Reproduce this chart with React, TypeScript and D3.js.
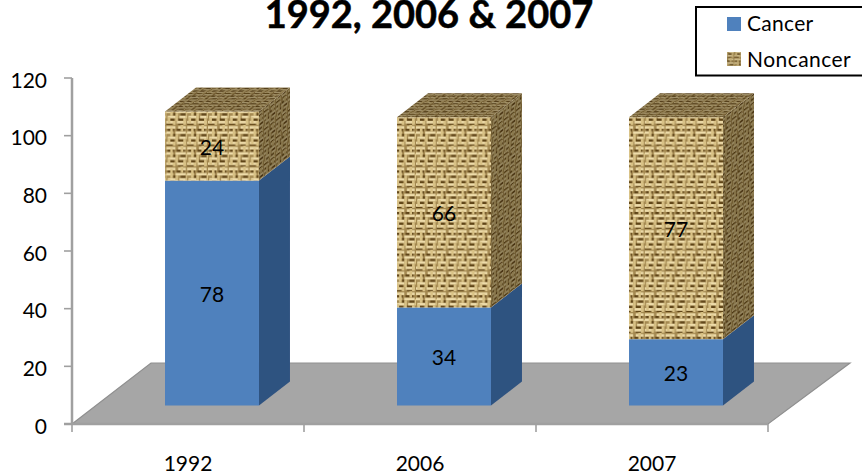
import React from "react";
import * as d3 from "d3";

const categories = ["1992", "2006", "2007"];
const cancer = [78, 34, 23];
const noncancer = [24, 66, 77];
const ticks = [0, 20, 40, 60, 80, 100, 120];
const titleText = "1992, 2006 & 2007";
const seriesNames = ["Cancer", "Noncancer"];

const FONT = "Lato, Carlito, sans-serif";
const BLUE = "#4f81bd";
const BLUE_SIDE = "#2f5280";
const AXIS = "#a0a0a0";

// Bars sit forward of the axis plane by this offset.
const BAR_SHIFT = { x: 24, y: -18.5 };
const DEPTH = { x: 31, y: -24 };
const FLOOR = { x: 79, y: -61 };

const yScale = d3.scaleLinear().domain([0, 120]).range([424, 78]);
const xScale = d3.scaleBand<string>().domain(categories).range([72, 768]).paddingInner(0.595).paddingOuter(0.2975);
const xStep = xScale.step();

const poly = (pts: [number, number][]) => pts.map((p) => p.join(",")).join(" ");

// One tile of the woven burlap texture: alternating runs of horizontal and vertical threads.
const weaveH: [number, number, number][] = [
  [0, 1, 7], [9, 1, 6], [0, 5, 5], [7, 5, 8], [1, 9, 6], [10, 9, 5], [0, 13, 7], [8, 13, 7],
];
const weaveV: [number, number, number][] = [
  [3, 2, 7], [7, 7, 6], [11, 0, 5], [15, 6, 5], [1, 10, 5], [13, 11, 6], [5, 13, 3],
];
const weaveDark: [number, number, number, number][] = [
  [1, 3, 5, 2], [8, 3, 6, 2], [5, 7, 3, 2], [11, 7, 4, 2],
  [3, 11, 3, 2], [8, 11, 5, 2], [0, 15, 6, 1], [9, 15, 5, 1],
];

function Weave({ id, transform, shade }: { id: string; transform?: string; shade: number }) {
  return (
    <pattern id={id} width={16} height={16} patternUnits="userSpaceOnUse" patternTransform={transform}>
      <rect width={16} height={16} fill="#a38850" />
      {weaveDark.map(([x, y, w, h], i) => (
        <rect key={i} x={x} y={y} width={w} height={h} fill="#5f4418" />
      ))}
      {weaveH.map(([x, y, w], i) => (
        <rect key={i} x={x} y={y} width={w} height={2} fill="#eedcaa" />
      ))}
      {weaveV.map(([x, y, h], i) => (
        <rect key={i} x={x} y={y} width={2} height={h} fill="#d9c286" />
      ))}
      <rect width={16} height={16} fill="#35270e" opacity={shade} />
    </pattern>
  );
}

export default function App() {
  const baseY = yScale(0) + BAR_SHIFT.y;
  return (
    <svg
      width={862}
      height={476}
      viewBox="0 0 862 476"
      style={{ position: "absolute", left: 0, top: 0, display: "block", background: "#fff" }}
      fontFamily={FONT}
    >
      <defs>
        <Weave id="weave-front" shade={0} transform="scale(1.3)" />
        <Weave id="weave-side" shade={0.48} transform={`skewY(${(Math.atan2(DEPTH.y, DEPTH.x) * 180) / Math.PI}) scale(0.75,1.1)`} />
        <Weave id="weave-top" shade={0.42} transform={`skewX(${(Math.atan2(-DEPTH.x, -DEPTH.y) * 180) / Math.PI}) scale(1.2,0.65)`} />
        <Weave id="weave-key" shade={0.15} transform="scale(0.9)" />
        <filter id="soft" x="-5%" y="-5%" width="110%" height="110%">
          <feGaussianBlur stdDeviation="0.7" />
        </filter>
      </defs>

      <text x={429} y={28} textAnchor="middle" fontSize={38} fontWeight={700} fill="#000" stroke="#000" strokeWidth={0.5}>
        {titleText}
      </text>

      {/* Chart floor */}
      <polygon
        points={poly([
          [72, 424],
          [72 + FLOOR.x, 424 + FLOOR.y],
          [768 + FLOOR.x + 3, 424 + FLOOR.y],
          [768, 424],
        ])}
        fill="#a6a6a6"
        stroke="#8f8f8f"
        strokeWidth={1.2}
      />

      {/* Axes */}
      <g stroke={AXIS} fill="none">
        <line x1={72} x2={72} y1={yScale(120)} y2={yScale(0)} strokeWidth={2.5} />
        <line x1={64} x2={768} y1={yScale(0)} y2={yScale(0)} strokeWidth={2.5} />
        {ticks.map((t) => (
          <line key={t} x1={64} x2={72} y1={yScale(t)} y2={yScale(t)} strokeWidth={1.6} />
        ))}
        {d3.range(categories.length + 1).map((i) => (
          <line key={i} x1={72 + i * xStep} x2={72 + i * xStep} y1={424} y2={432} strokeWidth={1.6} />
        ))}
      </g>
      {ticks.map((t) => (
        <text key={t} x={47} y={yScale(t) + 9.5} textAnchor="end" fontSize={21} fill="#000">
          {t}
        </text>
      ))}
      {categories.map((c) => (
        <text key={c} x={xScale(c)! + xScale.bandwidth() / 2} y={471} textAnchor="middle" fontSize={21} fill="#000">
          {c}
        </text>
      ))}

      {/* Stacked bars */}
      {categories.map((c, i) => {
        const x0 = xScale(c)! + BAR_SHIFT.x;
        const x1 = x0 + xScale.bandwidth();
        const midY = yScale(cancer[i]) + BAR_SHIFT.y;
        const topY = yScale(cancer[i] + noncancer[i]) + BAR_SHIFT.y;
        const side = (a: number, b: number): [number, number][] => [
          [x1, a],
          [x1 + DEPTH.x, a + DEPTH.y],
          [x1 + DEPTH.x, b + DEPTH.y],
          [x1, b],
        ];
        return (
          <g key={c}>
            <g filter="url(#soft)">
              <polygon points={poly(side(midY, baseY))} fill={BLUE_SIDE} />
              <rect x={x0} y={midY} width={x1 - x0} height={baseY - midY} fill={BLUE} />
              <polygon points={poly(side(topY, midY))} fill="url(#weave-side)" />
              <rect x={x0} y={topY} width={x1 - x0} height={midY - topY} fill="url(#weave-front)" />
              <polygon
                points={poly([
                  [x0, topY],
                  [x0 + DEPTH.x, topY + DEPTH.y],
                  [x1 + DEPTH.x, topY + DEPTH.y],
                  [x1, topY],
                ])}
                fill="url(#weave-top)"
              />
            </g>
            <text x={(x0 + x1) / 2} y={(baseY + midY) / 2 + 9} textAnchor="middle" fontSize={21} fill="#000">
              {cancer[i]}
            </text>
            <text x={(x0 + x1) / 2} y={(midY + topY) / 2 + 9} textAnchor="middle" fontSize={21} fill="#000">
              {noncancer[i]}
            </text>
          </g>
        );
      })}

      {/* Legend */}
      <rect x={696} y={7} width={180} height={68.5} fill="#fff" stroke="#000" strokeWidth={2} />
      <rect x={727} y={17} width={14} height={14} fill={BLUE} />
      <rect x={727} y={52} width={14} height={14} fill="url(#weave-key)" filter="url(#soft)" />
      <text x={747} y={31} fontSize={21} letterSpacing={0.3} fill="#000">
        {seriesNames[0]}
      </text>
      <text x={747} y={67} fontSize={21} letterSpacing={0.45} fill="#000">
        {seriesNames[1]}
      </text>
    </svg>
  );
}
